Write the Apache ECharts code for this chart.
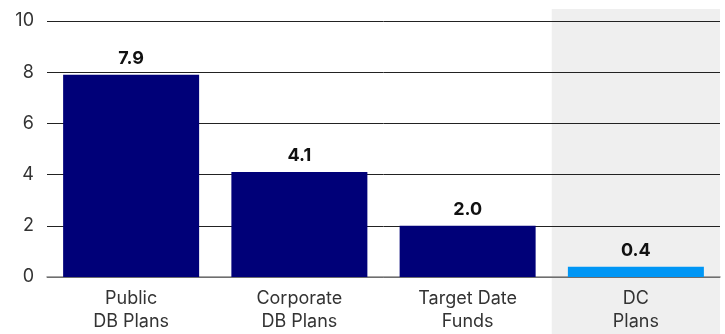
<!DOCTYPE html>
<html><head><meta charset="utf-8">
<script src="https://cdn.jsdelivr.net/npm/echarts@6/dist/echarts.min.js"></script>
<style>html,body{margin:0;padding:0;background:#fff}#c{width:725px;height:334px}</style>
</head><body><div id="c"></div>
<script>
const categories = ['Public\nDB Plans', 'Corporate\nDB Plans', 'Target Date\nFunds', 'DC\nPlans'];
const values = [7.9, 4.1, 2.0, 0.4];
const barColors = ['#000078', '#000078', '#000078', '#0096F5'];
const yTicks = [0, 2, 4, 6, 8, 10];
const highlightCategory = 'DC\nPlans';

const chart = echarts.init(document.getElementById('c'));
const font = 'Inter, "Noto Sans", sans-serif';
chart.setOption({
  animation: false,
  grid: { left: 47, right: 5, top: 21, bottom: 57 },
  xAxis: {
    type: 'category', data: categories,
    axisLine: { show: true, lineStyle: { color: '#888', width: 1.5 } },
    axisTick: { show: false },
    axisLabel: { color: '#333', fontFamily: font, fontSize: 18, lineHeight: 23, margin: 10 }
  },
  yAxis: {
    type: 'value', min: yTicks[0], max: yTicks[yTicks.length - 1], interval: 2,
    axisLine: { show: false }, axisTick: { show: false },
    splitLine: { lineStyle: { color: '#222', width: 1 } },
    axisLabel: { color: '#333', fontFamily: font, fontSize: 18, margin: 13 }
  },
  series: [{
    type: 'bar', barWidth: 136, z: 3,
    data: values.map((v, i) => ({ value: v, itemStyle: { color: barColors[i] } })),
    label: { show: true, position: 'top', distance: 7, color: '#111', fontFamily: font,
      fontWeight: 'bold', fontSize: 18, formatter: p => p.value.toFixed(1) }
  }]
});

function addBand() {
  const idx = categories.indexOf(highlightCategory);
  const c0 = chart.convertToPixel({ xAxisIndex: 0 }, categories[idx]);
  const c1 = chart.convertToPixel({ xAxisIndex: 0 }, categories[idx - 1]);
  const w = c0 - c1;
  chart.setOption({
    graphic: [{ type: 'rect', z: -10, silent: true,
      shape: { x: c0 - w / 2, y: 9, width: w, height: 334 - 9 },
      style: { fill: '#EFEFEF' } }]
  });
}
addBand();
</script></body></html>
